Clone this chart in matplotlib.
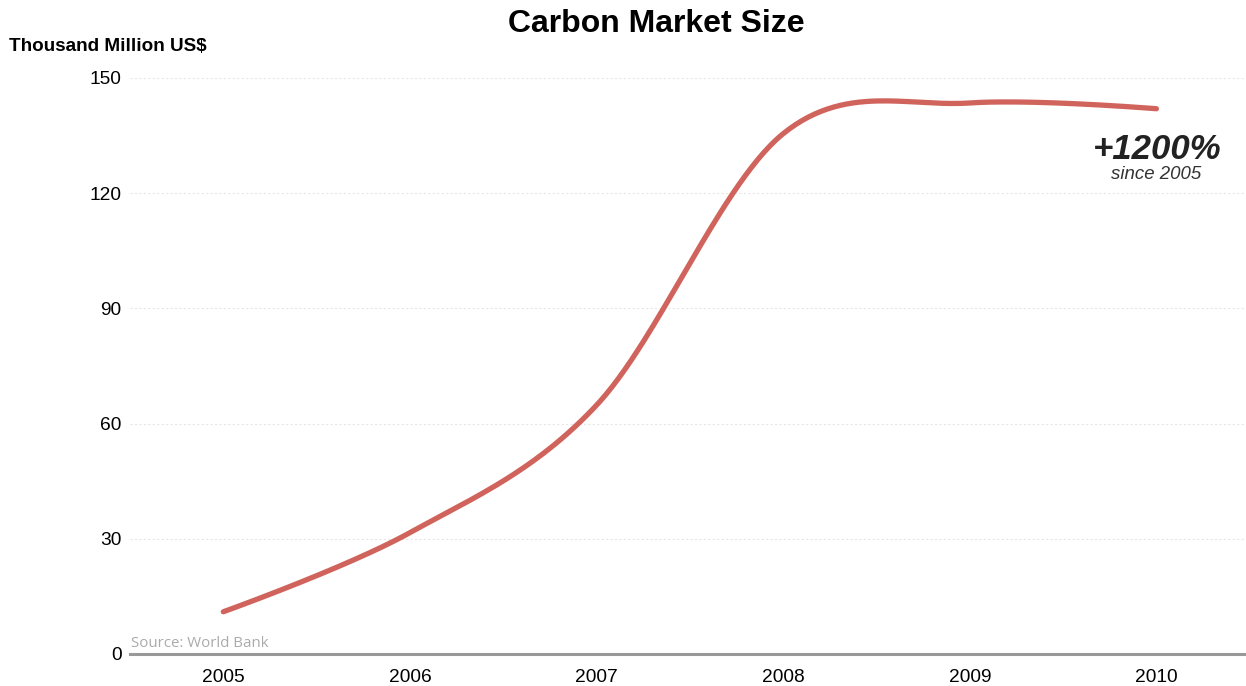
import numpy as np
import matplotlib.pyplot as plt

years = [2005, 2006, 2007, 2008, 2009, 2010]
market_size = [11.0, 31.6, 64.8, 135.5, 143.5, 142.0]
y_ticks = [0, 30, 60, 90, 120, 150]


def spline_path(xs, ys, smoothing=2.0, steps=60):
    # smoothed bezier through the points
    n = len(xs)
    left = [(x, y) for x, y in zip(xs, ys)]
    right = [(x, y) for x, y in zip(xs, ys)]
    denom = smoothing + 1
    for i in range(1, n - 1):
        x, y = xs[i], ys[i]
        lx, ly = xs[i - 1], ys[i - 1]
        nx, ny = xs[i + 1], ys[i + 1]
        lcx = (smoothing * x + lx) / denom
        lcy = (smoothing * y + ly) / denom
        rcx = (smoothing * x + nx) / denom
        rcy = (smoothing * y + ny) / denom
        corr = (rcy - lcy) * (rcx - x) / (rcx - lcx) + y - rcy
        left[i] = (lcx, lcy + corr)
        right[i] = (rcx, rcy + corr)
    t = np.linspace(0, 1, steps)
    px, py = [], []
    for i in range(n - 1):
        p0 = np.array([xs[i], ys[i]])
        p1 = np.array(right[i])
        p2 = np.array(left[i + 1])
        p3 = np.array([xs[i + 1], ys[i + 1]])
        b = ((1 - t) ** 3)[:, None] * p0 + (3 * (1 - t) ** 2 * t)[:, None] * p1 \
            + (3 * (1 - t) * t ** 2)[:, None] * p2 + (t ** 3)[:, None] * p3
        px.extend(b[:, 0])
        py.extend(b[:, 1])
    return px, py


plt.rcParams['font.family'] = ['Liberation Sans', 'DejaVu Sans']

fig = plt.figure(figsize=(12.46, 6.86), dpi=100)
ax = fig.add_axes([130 / 1246, 1 - 654 / 686, 1 - 130 / 1246, 576 / 686])

sx, sy = spline_path(years, market_size)
ax.plot(sx, sy, color='#d0645c', linewidth=3.8, solid_capstyle='round', zorder=3)

ax.set_xlim(2004.5, 2010.48)
ax.set_ylim(0, 150)
ax.set_xticks(years)
ax.set_xticklabels([str(y) for y in years], fontsize=13.8)
ax.set_yticks(y_ticks)
ax.set_yticklabels([str(v) for v in y_ticks], fontsize=13.8)
ax.tick_params(axis='y', length=0, pad=6)
ax.tick_params(axis='x', length=0, pad=11)
for v in y_ticks[1:]:
    ax.axhline(v, color='#e6e6e6', linewidth=0.8, linestyle=(0, (2, 2)), zorder=1)

for side in ['top', 'right', 'left']:
    ax.spines[side].set_visible(False)
ax.spines['bottom'].set_color('#999999')
ax.spines['bottom'].set_linewidth(2.2)

fig.text(0.5265, 1 - 24 / 686, 'Carbon Market Size', ha='center', va='center',
         fontsize=23, fontweight='bold')
fig.text(9 / 1246, 1 - 46.5 / 686, 'Thousand Million US$', ha='left', va='center',
         fontsize=13.6, fontweight='bold')

ax.text(2010.35, (654 - 150) / 3.84, '+1200%', ha='right', va='center', fontsize=25,
        fontweight='bold', style='italic', color='#222222')
ax.text(2010.0, (654 - 175) / 3.84, 'since 2005', ha='center', va='center',
        fontsize=13.4, style='italic', color='#333333')

ax.text(2004.505, 0.8, 'Source: World Bank', ha='left', va='bottom', fontsize=10.8,
        color='#aaaaaa', family=['Open Sans', 'DejaVu Sans'])

fig.savefig('out.png', dpi=100)
